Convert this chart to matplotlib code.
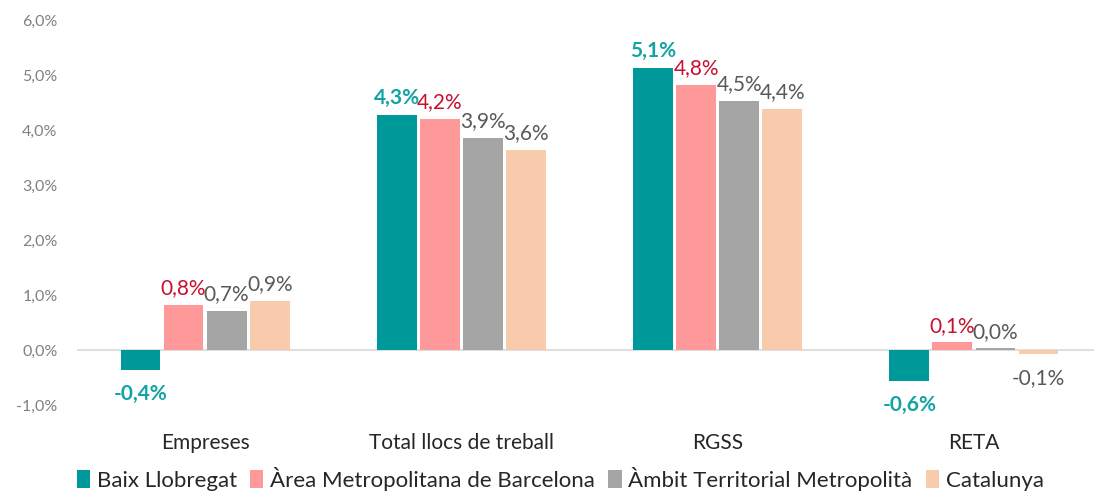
import matplotlib
matplotlib.use("Agg")
import matplotlib.pyplot as plt
import numpy as np

plt.rcParams['font.family'] = ['Lato', 'DejaVu Sans']

# datos
categorias = ["Empreses", "Total llocs de treball", "RGSS", "RETA"]
series = ["Baix Llobregat", "Àrea Metropolitana de Barcelona",
          "Àmbit Territorial Metropolità", "Catalunya"]
baix = [-0.36, 4.28, 5.13, -0.56]
amb = [0.82, 4.20, 4.82, 0.14]
atm = [0.71, 3.86, 4.53, 0.03]
cat = [0.90, 3.64, 4.38, -0.08]
valores = [baix, amb, atm, cat]
yticks = [-1, 0, 1, 2, 3, 4, 5, 6]

colores = ["#009999", "#FF9999", "#A5A5A5", "#F8CBAD"]
col_etiqueta = ["#13A3A3", "#C8102E", "#595959", "#595959"]
peso = ["bold", "normal", "normal", "normal"]

fig = plt.figure(figsize=(10.94, 4.96), dpi=100)
ax = fig.add_axes([77 / 1094, 1 - 405 / 496, 1025 / 1094, 385 / 496])

x = np.arange(len(categorias))
ancho = 0.155
paso = 0.168
for i, vals in enumerate(valores):
    pos = x + (i - 1.5) * paso
    ax.bar(pos, vals, width=ancho, color=colores[i], label=series[i], zorder=2)
    for p, v in zip(pos, vals):
        txt = f"{v:.1f}%".replace(".", ",")
        if v >= 0:
            ax.text(p, v + 0.12, txt, ha="center", va="bottom", fontsize=15,
                    color=col_etiqueta[i], fontweight=peso[i])
        else:
            ax.text(p, v - 0.25, txt, ha="center", va="top", fontsize=15,
                    color=col_etiqueta[i], fontweight=peso[i])

ax.axhline(0, color="#D9D9D9", lw=1.2, zorder=1)
ax.set_xlim(-0.5, 3.5)
ax.set_ylim(-1, 6)
ax.set_yticks(yticks)
ax.set_yticklabels([f"{t:.1f}%".replace(".", ",") for t in yticks],
                   color="#808080", fontsize=11.5)
ax.set_xticks(x)
ax.set_xticklabels(categorias, fontsize=15, color="#262626")
ax.tick_params(axis="both", length=0)
ax.tick_params(axis="x", pad=20)
ax.tick_params(axis="y", pad=14)
for s in ax.spines.values():
    s.set_visible(False)

fig.legend(loc="lower center", bbox_to_anchor=(0.512, -0.03), ncol=4,
           frameon=False, fontsize=16, handlelength=0.6, handleheight=0.9,
           handletextpad=0.3, columnspacing=0.6, labelcolor="#262626")

fig.savefig("out.png", dpi=100)
